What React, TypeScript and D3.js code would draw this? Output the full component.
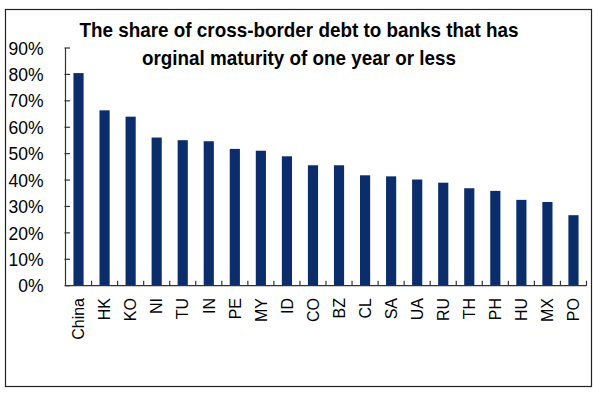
import * as d3 from "d3";

const categories = ["China", "HK", "KO", "NI", "TU", "IN", "PE", "MY", "ID", "CO", "BZ", "CL", "SA", "UA", "RU", "TH", "PH", "HU", "MX", "PO"];
const shares = [80.5, 66.4, 64.0, 56.1, 55.1, 54.7, 51.8, 51.1, 49.0, 45.6, 45.6, 41.8, 41.4, 40.2, 39.0, 36.9, 35.9, 32.5, 31.7, 26.7];
const yTicks = [0, 10, 20, 30, 40, 50, 60, 70, 80, 90];
const titleLines = ["The share of cross-border debt to banks that has", "orginal maturity of one year or less"];

const W = 593;
const H = 396;
const left = 65.5;
const right = 586.5;
const top = 48;
const bottom = 285.7;

const App = () => {
  const x = d3.scaleBand<string>().domain(categories).range([left, right]).paddingInner(0.61).paddingOuter(0.305);
  const band = d3.scaleBand<string>().domain(categories).range([left, right]);
  const y = d3.scaleLinear().domain([0, 90]).range([bottom, top]);

  const font = "'Liberation Sans', Arial, sans-serif";

  return (
    <svg width={W} height={H} style={{ position: "absolute", left: 0, top: 0 }}>
      <rect x={0} y={0} width={W} height={H} fill="#fff" />
      <rect x={5.5} y={9.5} width={586} height={377} fill="none" stroke="#222" strokeWidth={1.2} />

      {/* title */}
      {titleLines.map((t, i) => (
        <text
          key={t}
          x={299}
          y={37 + i * 28}
          textAnchor="middle"
          fontFamily="'Liberation Sans Narrow', 'Liberation Sans', Arial, sans-serif"
          fontWeight="bold"
          fontSize={21}
          fill="#000"
          textLength={i === 0 ? 439 : 314}
          lengthAdjust="spacingAndGlyphs"
        >
          {t}
        </text>
      ))}

      {/* bars */}
      {categories.map((c, i) => (
        <rect key={c} x={x(c)} y={y(shares[i])} width={x.bandwidth()} height={bottom - y(shares[i])} fill="#0b2d6c" />
      ))}

      {/* y axis */}
      <line x1={left} x2={left} y1={top} y2={bottom} stroke="#333" strokeWidth={1.2} />
      {yTicks.map((t) => (
        <g key={t}>
          <line x1={left - 1} x2={left + 4.5} y1={y(t)} y2={y(t)} stroke="#333" strokeWidth={1.2} />
          <text x={43.5} y={y(t)} dy="0.38em" textAnchor="end" fontFamily={font} fontSize={17.5} fill="#000">
            {t}%
          </text>
        </g>
      ))}

      {/* x axis */}
      <line x1={left} x2={right} y1={bottom} y2={bottom} stroke="#333" strokeWidth={1.2} />
      {categories.map((c) => (
        <line key={c} x1={(band(c) ?? 0) + band.bandwidth()} x2={(band(c) ?? 0) + band.bandwidth()} y1={bottom} y2={bottom - 5} stroke="#333" strokeWidth={1.2} />
      ))}
      {categories.map((c) => (
        <text
          key={c}
          transform={`translate(${(x(c) ?? 0) + x.bandwidth() / 2},298) rotate(-90)`}
          dy="0.36em"
          textAnchor="end"
          fontFamily={font}
          fontSize={16}
          fill="#000"
        >
          {c}
        </text>
      ))}
    </svg>
  );
};

export default App;
